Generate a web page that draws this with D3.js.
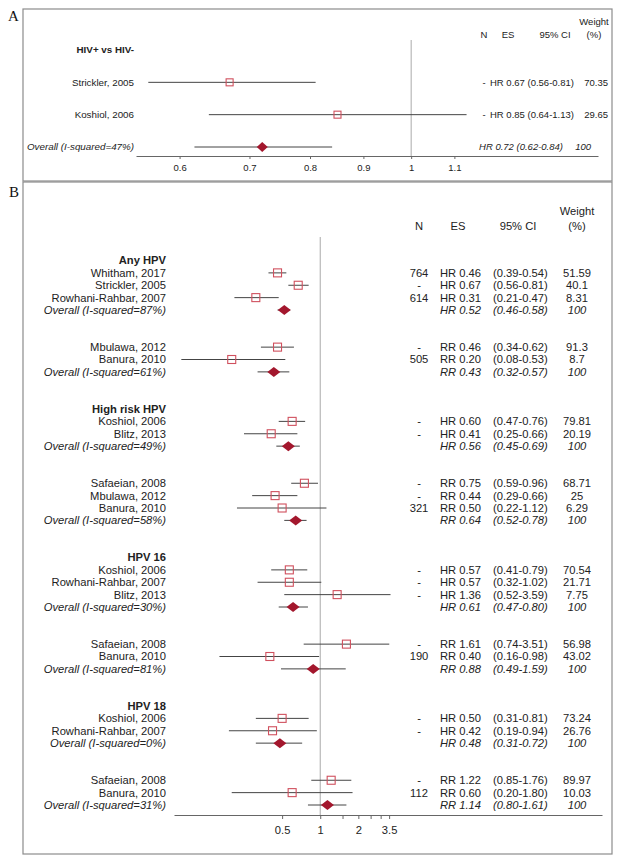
<!DOCTYPE html>
<html>
<head>
<meta charset="utf-8">
<script src="https://cdn.jsdelivr.net/npm/d3@7"></script>
<style>
  body { margin: 0; background: #fff; }
  svg text { font-family: "Liberation Sans", Arial, sans-serif; fill: #222; }
  .panel-letter { font-family: "Liberation Serif", "Times New Roman", serif; font-size: 15px; fill: #111; }
</style>
</head>
<body>
<svg id="chart" width="625" height="864"></svg>
<script>
// ---- panel A data
var aLabels = ["HIV+ vs HIV-", "Strickler, 2005", "Koshiol, 2006", "Overall (I-squared=47%)"];
var aKind   = ["h", "s", "s", "o"];
var aN      = ["", "-", "-", ""];
var aMeas   = ["", "HR", "HR", "HR"];
var aEst    = [null, 0.67, 0.85, 0.72];
var aLo     = [null, 0.56, 0.64, 0.62];
var aHi     = [null, 0.81, 1.13, 0.84];
var aWeight = [null, 70.35, 29.65, 100];
var aTicks  = [0.6, 0.7, 0.8, 0.9, 1, 1.1];

// ---- panel B data ("" rows are blank spacer rows)
var bLabels = ["Any HPV", "Whitham, 2017", "Strickler, 2005", "Rowhani-Rahbar, 2007", "Overall (I-squared=87%)", "", "",
  "Mbulawa, 2012", "Banura, 2010", "Overall (I-squared=61%)", "", "",
  "High risk HPV", "Koshiol, 2006", "Blitz, 2013", "Overall (I-squared=49%)", "", "",
  "Safaeian, 2008", "Mbulawa, 2012", "Banura, 2010", "Overall (I-squared=58%)", "", "",
  "HPV 16", "Koshiol, 2006", "Rowhani-Rahbar, 2007", "Blitz, 2013", "Overall (I-squared=30%)", "", "",
  "Safaeian, 2008", "Banura, 2010", "Overall (I-squared=81%)", "", "",
  "HPV 18", "Koshiol, 2006", "Rowhani-Rahbar, 2007", "Overall (I-squared=0%)", "", "",
  "Safaeian, 2008", "Banura, 2010", "Overall (I-squared=31%)"];
var bKind = ["h","s","s","s","o","","",
  "s","s","o","","",
  "h","s","s","o","","",
  "s","s","s","o","","",
  "h","s","s","s","o","","",
  "s","s","o","","",
  "h","s","s","o","","",
  "s","s","o"];
var bN = ["","764","-","614","","","",
  "-","505","","","",
  "","-","-","","","",
  "-","-","321","","","",
  "","-","-","-","","","",
  "-","190","","","",
  "","-","-","","","",
  "-","112",""];
var bMeas = ["","HR","HR","HR","HR","","",
  "RR","RR","RR","","",
  "","HR","HR","HR","","",
  "RR","RR","RR","RR","","",
  "","HR","HR","HR","HR","","",
  "RR","RR","RR","","",
  "","HR","HR","HR","","",
  "RR","RR","RR"];
var bEst = [null,0.46,0.67,0.31,0.52,null,null,
  0.46,0.20,0.43,null,null,
  null,0.60,0.41,0.56,null,null,
  0.75,0.44,0.50,0.64,null,null,
  null,0.57,0.57,1.36,0.61,null,null,
  1.61,0.40,0.88,null,null,
  null,0.50,0.42,0.48,null,null,
  1.22,0.60,1.14];
var bLo = [null,0.39,0.56,0.21,0.46,null,null,
  0.34,0.08,0.32,null,null,
  null,0.47,0.25,0.45,null,null,
  0.59,0.29,0.22,0.52,null,null,
  null,0.41,0.32,0.52,0.47,null,null,
  0.74,0.16,0.49,null,null,
  null,0.31,0.19,0.31,null,null,
  0.85,0.20,0.80];
var bHi = [null,0.54,0.81,0.47,0.58,null,null,
  0.62,0.53,0.57,null,null,
  null,0.76,0.66,0.69,null,null,
  0.96,0.66,1.12,0.78,null,null,
  null,0.79,1.02,3.59,0.80,null,null,
  3.51,0.98,1.59,null,null,
  null,0.81,0.94,0.72,null,null,
  1.76,1.80,1.61];
var bWeight = [null,51.59,40.1,8.31,100,null,null,
  91.3,8.7,100,null,null,
  null,79.81,20.19,100,null,null,
  68.71,25,6.29,100,null,null,
  null,70.54,21.71,7.75,100,null,null,
  56.98,43.02,100,null,null,
  null,73.24,26.76,100,null,null,
  89.97,10.03,100];
var bTicks = [0.5, 1, 1.5, 2, 2.5, 3, 3.5];
var bTickLabels = [0.5, 1, 2, 3.5];

var svg = d3.select("#chart");
var squareCol = "#d0505e", diamondCol = "#a3172d", lineCol = "#444";

function fmt(v) { return v.toFixed(2); }

function diamond(cx, cy, w, h) {
  return "M" + (cx - w / 2) + "," + cy + "L" + cx + "," + (cy - h / 2) +
    "L" + (cx + w / 2) + "," + cy + "L" + cx + "," + (cy + h / 2) + "Z";
}

// ================= panel A =================
svg.append("rect").attr("x", 23).attr("y", 9).attr("width", 589).attr("height", 172)
  .attr("fill", "none").attr("stroke", "#8c8c8c").attr("stroke-width", 1.2);
svg.append("text").attr("class", "panel-letter").attr("x", 8).attr("y", 21).text("A");

var xA = d3.scaleLog().domain([0.545, 1.51]).range([136, 598]);
var yA = d3.scaleLinear().domain([0, 3]).range([50, 147]);
var gA = svg.append("g");

gA.append("line").attr("x1", xA(1)).attr("x2", xA(1)).attr("y1", 40).attr("y2", 156)
  .attr("stroke", "#aaa");

var axA = gA.append("g").attr("transform", "translate(0,156)")
  .call(d3.axisBottom(xA).tickValues(aTicks).tickFormat(d3.format("")).tickSize(3).tickSizeOuter(0));
axA.select(".domain").attr("stroke", "#666");
axA.selectAll(".tick line").attr("stroke", "#666");
axA.selectAll(".tick text").attr("font-size", "9.5px").attr("font-family", "Liberation Sans, Arial, sans-serif")
  .attr("fill", "#222").attr("dy", "0.9em");

// header
var hA = gA.append("g").attr("font-size", "9.5px");
hA.append("text").attr("x", 594).attr("y", 25).attr("text-anchor", "middle").text("Weight");
hA.append("text").attr("x", 594).attr("y", 38).attr("text-anchor", "middle").text("(%)");
hA.append("text").attr("x", 484).attr("y", 38).attr("text-anchor", "middle").text("N");
hA.append("text").attr("x", 508).attr("y", 38).attr("text-anchor", "middle").text("ES");
hA.append("text").attr("x", 555).attr("y", 38).attr("text-anchor", "middle").text("95% CI");

aLabels.forEach(function (lab, i) {
  var y = yA(i);
  var t = gA.append("text").attr("x", 134).attr("y", y).attr("dy", "0.35em")
    .attr("text-anchor", "end").attr("font-size", "9.8px").text(lab);
  if (aKind[i] === "h") t.attr("font-weight", "bold");
  if (aKind[i] === "o") t.attr("font-style", "italic");
  if (aEst[i] == null) return;
  gA.append("line").attr("x1", xA(aLo[i])).attr("x2", xA(aHi[i])).attr("y1", y).attr("y2", y)
    .attr("stroke", lineCol).attr("stroke-width", 1);
  if (aKind[i] === "s") {
    gA.append("rect").attr("x", xA(aEst[i]) - 3.5).attr("y", y - 3.5).attr("width", 7).attr("height", 7)
      .attr("fill", "none").attr("stroke", squareCol).attr("stroke-width", 1.1);
    gA.append("text").attr("x", 484).attr("y", y).attr("dy", "0.35em").attr("text-anchor", "middle")
      .attr("font-size", "9.5px").text(aN[i]);
    gA.append("text").attr("x", 490).attr("y", y).attr("dy", "0.35em").attr("font-size", "9.5px")
      .text(aMeas[i] + " " + fmt(aEst[i]) + " (" + fmt(aLo[i]) + "-" + fmt(aHi[i]) + ")");
    gA.append("text").attr("x", 608).attr("y", y).attr("dy", "0.35em").attr("text-anchor", "end")
      .attr("font-size", "9.5px").text(aWeight[i]);
  } else {
    gA.append("path").attr("d", diamond(xA(aEst[i]), y, 11, 10)).attr("fill", diamondCol);
    gA.append("text").attr("x", 563).attr("y", y).attr("dy", "0.35em").attr("text-anchor", "end")
      .attr("font-size", "9.5px").attr("font-style", "italic")
      .text(aMeas[i] + " " + fmt(aEst[i]) + " (" + fmt(aLo[i]) + "-" + fmt(aHi[i]) + ")");
    gA.append("text").attr("x", 591).attr("y", y).attr("dy", "0.35em").attr("text-anchor", "end")
      .attr("font-size", "9.5px").attr("font-style", "italic").text(aWeight[i]);
  }
});

// ================= panel B =================
svg.append("rect").attr("x", 23).attr("y", 182).attr("width", 589).attr("height", 672)
  .attr("fill", "none").attr("stroke", "#8c8c8c").attr("stroke-width", 1.2);
svg.append("text").attr("class", "panel-letter").attr("x", 9).attr("y", 197).text("B");

var xB = d3.scaleLog().domain([0.07, 168]).range([174, 602]);
var yB = d3.scaleLinear().domain([0, bLabels.length - 1]).range([260.5, 805]);
var gB = svg.append("g");
var fsB = "11.2px";

gB.append("line").attr("x1", xB(1)).attr("x2", xB(1)).attr("y1", 237).attr("y2", 815)
  .attr("stroke", "#aaa");

var axB = gB.append("g").attr("transform", "translate(0,815)")
  .call(d3.axisBottom(xB).tickValues(bTicks)
    .tickFormat(function (d) { return bTickLabels.indexOf(d) >= 0 ? d3.format("")(d) : ""; })
    .tickSize(4).tickSizeOuter(0));
axB.select(".domain").attr("stroke", "#666");
axB.selectAll(".tick line").attr("stroke", "#666");
axB.selectAll(".tick text").attr("font-size", fsB).attr("font-family", "Liberation Sans, Arial, sans-serif")
  .attr("fill", "#222").attr("dy", "1.05em");

var hB = gB.append("g").attr("font-size", fsB);
hB.append("text").attr("x", 577).attr("y", 215).attr("text-anchor", "middle").text("Weight");
hB.append("text").attr("x", 577).attr("y", 230).attr("text-anchor", "middle").text("(%)");
hB.append("text").attr("x", 419).attr("y", 230).attr("text-anchor", "middle").text("N");
hB.append("text").attr("x", 458).attr("y", 230).attr("text-anchor", "middle").text("ES");
hB.append("text").attr("x", 518).attr("y", 230).attr("text-anchor", "middle").text("95% CI");

bLabels.forEach(function (lab, i) {
  if (bKind[i] === "") return;
  var y = yB(i);
  var ital = bKind[i] === "o" ? "italic" : "normal";
  var t = gB.append("text").attr("x", 166).attr("y", y).attr("dy", "0.35em")
    .attr("text-anchor", "end").attr("font-size", fsB).attr("font-style", ital).text(lab);
  if (bKind[i] === "h") { t.attr("font-weight", "bold"); return; }
  gB.append("line").attr("x1", xB(bLo[i])).attr("x2", xB(bHi[i])).attr("y1", y).attr("y2", y)
    .attr("stroke", lineCol).attr("stroke-width", 1);
  if (bKind[i] === "s") {
    gB.append("rect").attr("x", xB(bEst[i]) - 4).attr("y", y - 4).attr("width", 8).attr("height", 8)
      .attr("fill", "none").attr("stroke", squareCol).attr("stroke-width", 1.1);
  } else {
    gB.append("path").attr("d", diamond(xB(bEst[i]), y, 13, 10)).attr("fill", diamondCol);
  }
  gB.append("text").attr("x", 419).attr("y", y).attr("dy", "0.35em").attr("text-anchor", "middle")
    .attr("font-size", fsB).text(bN[i]);
  gB.append("text").attr("x", 440).attr("y", y).attr("dy", "0.35em").attr("font-size", fsB)
    .attr("font-style", ital).text(bMeas[i] + " " + fmt(bEst[i]));
  gB.append("text").attr("x", 493).attr("y", y).attr("dy", "0.35em").attr("font-size", fsB)
    .attr("font-style", ital).text("(" + fmt(bLo[i]) + "-" + fmt(bHi[i]) + ")");
  gB.append("text").attr("x", 577).attr("y", y).attr("dy", "0.35em").attr("text-anchor", "middle")
    .attr("font-size", fsB).attr("font-style", ital).text(bWeight[i]);
});
</script>
</body>
</html>
